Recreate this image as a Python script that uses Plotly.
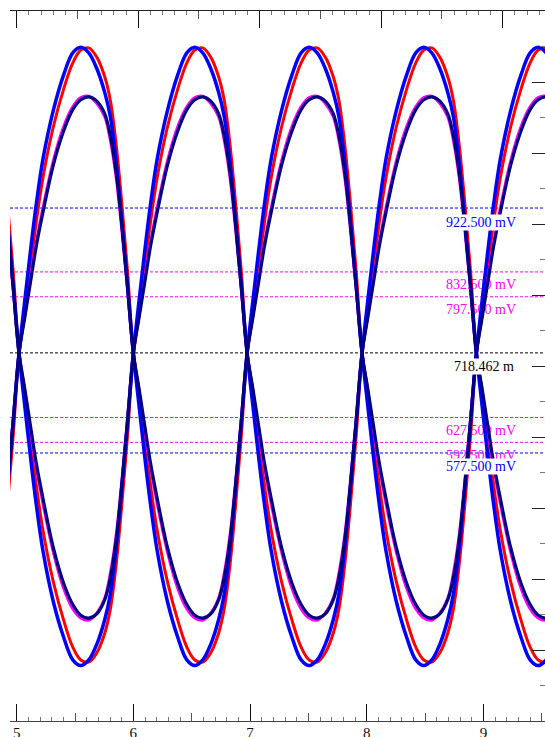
import plotly.graph_objects as go

# ---------------- data ----------------
# axis ranges / tick labels
x_range = [4.9426, 9.528]          # bottom time axis
top_range = [-0.0551, 4.348]       # top (unlabelled) axis
y_range = [200, 1200]              # mV
x_tick_vals = [5, 6, 7, 8, 9]
x_tick_text = ["5", "6", "7", "8", "9"]

# eye crossing times (bottom-axis units)
crossings = [4.04, 5.02, 6.00, 6.975, 7.96, 8.94, 9.92]

# sample positions inside one unit interval (fraction of the interval)
lobe_u = [0, 0.05, 0.1, 0.15, 0.21, 0.3, 0.39, 0.47, 0.54, 0.61, 0.68,
          0.75, 0.8, 0.85, 0.9, 0.95, 1.0]

# lobe shapes in mV for each trace colour
red_upper = [718, 772, 837, 902, 966, 1037, 1090, 1127, 1145, 1148, 1135,
             1107, 1073, 1011, 927, 831, 718]
red_lower = [718, 665, 599, 533, 468, 396, 342, 304, 286, 283, 296,
             324, 359, 421, 507, 604, 718]
blue_upper = [718, 792, 862, 927, 992, 1060, 1110, 1141, 1149, 1141, 1119,
              1085, 1050, 986, 902, 811, 718]
blue_lower = [718, 644, 572, 506, 439, 368, 318, 286, 278, 286, 308,
              343, 380, 445, 531, 623, 718]
magenta_upper = [718, 772, 824, 873, 923, 989, 1037, 1065, 1078, 1080, 1070,
                 1051, 1017, 965, 890, 806, 718]
magenta_lower = [718, 664, 609, 558, 506, 438, 387, 358, 345, 342, 352,
                 373, 409, 462, 540, 628, 718]
navy_upper = [718, 768, 818, 868, 917, 983, 1031, 1061, 1075, 1079, 1073,
              1055, 1023, 972, 897, 810, 718]
navy_lower = [718, 668, 616, 564, 513, 444, 394, 364, 349, 345, 351,
              371, 403, 456, 534, 624, 718]

# horizontal marker lines
marker_values = [922.5, 832.5, 797.5, 718.462, 627.5, 592.5, 577.5]
marker_labels = ["922.500 mV", "832.500 mV", "797.500 mV", "718.462 m",
                 "627.500 mV", "592.500 mV", "577.500 mV"]
marker_colors = ["#0000FF", "#FF00FF", "#FF00FF", "#000000",
                 "#FF00FF", "#FF00FF", "#0000FF"]
marker_on_top = [True, False, False, True, False, False, True]

# ---------------- styling ----------------
W, H = 545, 737
M_L, M_R, M_T, M_B = 10, 0, 11, 16
SERIF = "Liberation Serif, Times New Roman, serif"
LABEL_X = 8.98
LABEL_X_BLACK = 9.005
LABEL_SHIFT_PX = 14
mv_per_px = (y_range[1] - y_range[0]) / (H - M_T - M_B)


def waveform(first, second):
    t, v = [], []
    lobes = [first, second]
    for k in range(len(crossings) - 1):
        c0, c1 = crossings[k], crossings[k + 1]
        prof = lobes[k % 2]
        start = 0 if k == 0 else 1
        for u, val in list(zip(lobe_u, prof))[start:]:
            t.append(c0 + u * (c1 - c0))
            v.append(val)
    return t, v


fig = go.Figure()

# magenta labels (drawn underneath the curves)
for val, lab, col, top in zip(marker_values, marker_labels, marker_colors, marker_on_top):
    if not top:
        fig.add_trace(go.Scatter(
            x=[LABEL_X], y=[val - LABEL_SHIFT_PX * mv_per_px], mode="text",
            text=[lab], textposition="middle center",
            textfont=dict(family=SERIF, size=14, color=col),
            showlegend=False, hoverinfo="skip"))

series = [
    ("#FF0000", red_upper, red_lower, 3),
    ("#FF00FF", magenta_upper, magenta_lower, 3),
    ("#0000FF", blue_upper, blue_lower, 3.5),
    ("#000080", navy_upper, navy_lower, 3.2),
]
for col, up, lo, w in series:
    for a, b in ((up, lo), (lo, up)):
        t, v = waveform(a, b)
        fig.add_trace(go.Scatter(
            x=t, y=v, mode="lines",
            line=dict(color=col, width=w, shape="spline", smoothing=1),
            showlegend=False, hoverinfo="skip"))

# dummy traces so the overlay tick axes are drawn
for ax in ("x2", "x3", "x4"):
    fig.add_trace(go.Scatter(x=[None], y=[None], xaxis=ax, yaxis="y",
                             showlegend=False, hoverinfo="skip"))

# dashed marker lines
for val, col in zip(marker_values, marker_colors):
    fig.add_shape(type="line", xref="paper", x0=0, x1=1, yref="y", y0=val, y1=val,
                  line=dict(color=col, width=1, dash="3px,2px"), layer="below")

# blue / black labels on top with white background
for val, lab, col, top in zip(marker_values, marker_labels, marker_colors, marker_on_top):
    if top:
        fig.add_annotation(
            x=LABEL_X_BLACK if col == "#000000" else LABEL_X, y=val,
            xref="x", yref="y", text=lab, showarrow=False,
            yshift=-LABEL_SHIFT_PX, xanchor="center", yanchor="middle",
            bgcolor="white", borderpad=0,
            font=dict(family=SERIF, size=14, color=col))

common = dict(showgrid=False, zeroline=False)
fig.update_layout(
    width=W, height=H,
    margin=dict(l=M_L, r=M_R, t=M_T, b=M_B, autoexpand=False),
    paper_bgcolor="white", plot_bgcolor="white",
    showlegend=False,
    xaxis=dict(range=x_range, tickmode="array", tickvals=x_tick_vals,
               ticktext=x_tick_text, ticks="inside", ticklen=17, tickwidth=1,
               tickcolor="#111", showline=True, linecolor="#444", linewidth=1,
               tickfont=dict(family=SERIF, size=15, color="#111"),
               ticklabelstandoff=-2,
               minor=dict(dtick=0.1, tick0=5, ticks="inside", ticklen=4,
                          tickcolor="#777", showgrid=False),
               **common),
    xaxis2=dict(range=top_range, overlaying="x", side="top", anchor="y",
                tickmode="linear", tick0=0, dtick=1, ticks="inside", ticklen=17,
                tickcolor="#111", showticklabels=False, showline=True,
                linecolor="#222", linewidth=1,
                minor=dict(dtick=0.1, tick0=0, ticks="inside", ticklen=4,
                           tickcolor="#777", showgrid=False),
                **common),
    xaxis3=dict(range=x_range, overlaying="x", side="bottom", anchor="y",
                tickmode="linear", tick0=5.5, dtick=1, ticks="inside", ticklen=8,
                tickcolor="#555", showticklabels=False, showline=False, **common),
    xaxis4=dict(range=top_range, overlaying="x", side="top", anchor="y",
                tickmode="linear", tick0=0.5, dtick=1, ticks="inside", ticklen=8,
                tickcolor="#555", showticklabels=False, showline=False, **common),
    yaxis=dict(range=y_range, side="right", tickmode="linear", tick0=200,
               dtick=100, ticks="inside", ticklen=13, tickcolor="#222",
               showticklabels=False, showline=False,
               minor=dict(dtick=50, tick0=200, ticks="inside", ticklen=5,
                          tickcolor="#777", showgrid=False),
               **common),
)

fig.write_html("out.html")
